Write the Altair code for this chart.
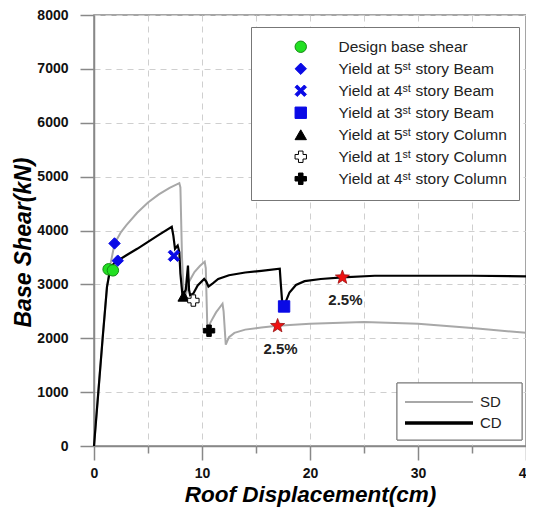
import math
import altair as alt
import pandas as pd

# ---------------- data ----------------
sd_x = [0, 0.4, 0.8, 1.2, 1.5, 1.8, 2.1, 2.5, 3, 4, 5, 6, 7, 7.9, 8.0, 8.15, 8.3, 8.5,
        8.8, 9.3, 9.8, 10.25, 10.35, 10.5, 10.8, 11.3, 11.9, 12.0, 12.2, 12.5, 13, 14,
        15.5, 17, 20, 25, 30, 35, 40]
sd_y = [0, 1000, 2000, 2950, 3350, 3650, 3830, 3970, 4100, 4330, 4520, 4670, 4790, 4880,
        4800, 3500, 2850, 2800, 3050, 3230, 3340, 3420, 3300, 2150, 2300, 2480, 2640, 2500,
        1880, 2020, 2100, 2160, 2200, 2230, 2270, 2300, 2270, 2190, 2100]

cd_x = [0, 0.4, 0.8, 1.2, 1.5, 1.8, 2.2, 3, 4, 5, 6, 7.2, 7.35, 7.5, 7.75, 7.9, 8.0, 8.2,
        8.5, 8.7, 8.8, 8.9, 9.2, 9.6, 10.2, 10.4, 10.6, 11.0, 11.5, 12.5, 14, 15.5, 17.2,
        17.3, 17.45, 17.7, 18.1, 18.7, 19.5, 21, 23, 26, 30, 35, 40]
cd_y = [0, 1000, 2000, 2950, 3280, 3380, 3440, 3540, 3660, 3790, 3920, 4070, 3900, 3660,
        3720, 3600, 3200, 2780, 2900, 3350, 2900, 2800, 2830, 2980, 3100, 3050, 2960, 3020,
        3100, 3170, 3220, 3250, 3290, 3000, 2600, 2650, 2850, 2990, 3060, 3100, 3130, 3160,
        3160, 3160, 3150]

marker_names = ["Design base shear",
                "Yield at 5\u02e2\u1d57 story Beam",
                "Yield at 4\u02e2\u1d57 story Beam",
                "Yield at 3\u02e2\u1d57 story Beam",
                "Yield at 5\u02e2\u1d57 story Column",
                "Yield at 1\u02e2\u1d57 story Column",
                "Yield at 4\u02e2\u1d57 story Column"]
marker_idx = [0, 0, 1, 1, 2, 3, 4, 5, 6]
marker_x = [1.35, 1.75, 1.9, 2.2, 7.4, 17.6, 8.3, 9.2, 10.65]
marker_y = [3280, 3260, 3760, 3440, 3530, 2590, 2780, 2700, 2140]

star_x = [17.0, 23.0]
star_y = [2230, 3130]
star_text = ["2.5%", "2.5%"]

legend2_names = ["SD", "CD"]

# ---------------- frames ----------------
lines = pd.DataFrame({
    "series": ["SD"] * len(sd_x) + ["CD"] * len(cd_x),
    "x": sd_x + cd_x,
    "y": sd_y + cd_y,
    "i": list(range(len(sd_x))) + list(range(len(cd_x))),
})
marks = pd.DataFrame({
    "name": [marker_names[k] for k in marker_idx],
    "x": marker_x,
    "y": marker_y,
})
stars = pd.DataFrame({"x": star_x, "y": star_y, "t": star_text})

# ---------------- shapes ----------------
pts = []
for k in range(10):
    r = 1.0 if k % 2 == 0 else 0.42
    a = -math.pi / 2 + k * math.pi / 5
    pts.append(f"{r*math.cos(a):.3f},{r*math.sin(a):.3f}")
star_path = "M" + "L".join(pts) + "Z"
x_path = ("M-1,-0.62L-0.62,-1L0,-0.38L0.62,-1L1,-0.62L0.38,0L1,0.62L0.62,1L0,0.38"
          "L-0.62,1L-1,0.62L-0.38,0Z")

FONT = "Liberation Sans"
W, H = 432, 431

xscale = alt.Scale(domain=[0, 40], nice=False, zero=False)
yscale = alt.Scale(domain=[0, 8000], nice=False)

xaxis = alt.Axis(
    values=list(range(0, 41, 5)),
    labelExpr="datum.value % 10 === 0 ? datum.label : ''",
    tickSize={"condition": {"test": "datum.value % 10 === 0", "value": 14}, "value": 7},
    tickColor="#888", domainColor="#888", domainWidth=1.5, tickWidth=1.5,
    grid=True, gridDash=[6, 5], gridColor="#cfcfcf",
    labelFont=FONT, labelFontWeight="bold", labelFontSize=14, labelColor="#111",
    labelPadding=6, labelFlush=False,
    title="Roof Displacement(cm)", titleFont=FONT, titleFontSize=22.5,
    titleFontWeight="bold", titleFontStyle="italic", titleColor="#000",
    titleY=55, titleBaseline="alphabetic",
)
yaxis = alt.Axis(
    values=list(range(0, 8001, 500)),
    labelExpr="datum.value % 1000 === 0 ? datum.label : ''",
    format="d",
    tickSize={"condition": {"test": "datum.value % 1000 === 0", "value": 14}, "value": 8},
    tickColor="#888", domainColor="#888", domainWidth=1.5, tickWidth=1.5,
    grid=True, gridDash=[6, 5], gridColor="#cfcfcf",
    gridOpacity={"condition": {"test": "datum.value % 1000 === 0", "value": 1}, "value": 0},
    labelFont=FONT, labelFontWeight="bold", labelFontSize=14, labelColor="#111",
    labelPadding=12,
    title="Base Shear(kN)", titleFont=FONT, titleFontSize=23,
    titleFontWeight="bold", titleFontStyle="italic", titleColor="#000",
    titleX=-71, titleY=227, titleBaseline="middle",
)

base_lines = alt.Chart(lines).mark_line()

sd_line = base_lines.transform_filter("datum.series === 'SD'").mark_line(
    color="#a8a8a8", strokeWidth=2).encode(
    x=alt.X("x:Q", scale=xscale, axis=xaxis),
    y=alt.Y("y:Q", scale=yscale, axis=yaxis),
    order="i:Q",
)
cd_line = base_lines.transform_filter("datum.series === 'CD'").mark_line(
    color="#000000", strokeWidth=2.2).encode(
    x=alt.X("x:Q", scale=xscale),
    y=alt.Y("y:Q", scale=yscale),
    order="i:Q",
)

legend1 = alt.Legend(
    title=None, orient="none", legendX=157, legendY=12,
    padding=12, strokeColor="#777", fillColor="#ffffff",
    labelFont=FONT, labelFontSize=15.5, labelColor="#222", labelLimit=400,
    symbolSize=130, symbolStrokeWidth=1, rowPadding=5, symbolOffset=30, labelOffset=30,
)
mk_fill = ["#22e022", "#0a0ae6", "#0a0ae6", "#0a0ae6", "#000000", "#ffffff", "#000000"]
mk_stroke = ["#138a13", "#0a0ae6", "#0a0ae6", "#0a0ae6", "#000000", "#000000", "#000000"]
mk_shape = ["circle", "diamond", x_path, "square", "triangle-up", "cross", "cross"]

markers = alt.Chart(marks).mark_point(size=130, filled=True, strokeWidth=1, opacity=1).encode(
    x=alt.X("x:Q", scale=xscale),
    y=alt.Y("y:Q", scale=yscale),
    fill=alt.Fill("name:N", scale=alt.Scale(domain=marker_names, range=mk_fill), legend=legend1),
    stroke=alt.Stroke("name:N", scale=alt.Scale(domain=marker_names, range=mk_stroke), legend=legend1),
    shape=alt.Shape("name:N", scale=alt.Scale(domain=marker_names, range=mk_shape), legend=legend1),
)

star_pts = alt.Chart(stars).mark_point(
    shape=star_path, size=220, filled=True, fill="#ee1111", stroke="#991111",
    strokeWidth=0.8, opacity=1).encode(
    x=alt.X("x:Q", scale=xscale), y=alt.Y("y:Q", scale=yscale))
star_lbl = alt.Chart(stars).mark_text(
    font=FONT, fontSize=15, fontWeight="bold", color="#222", dy=23, dx=3).encode(
    x=alt.X("x:Q", scale=xscale), y=alt.Y("y:Q", scale=yscale), text="t:N")

# ---- SD / CD legend box ----
leg_box = alt.Chart(stars).mark_rect(fill="white", stroke="#777", strokeWidth=1).encode(
    x=alt.value(303), x2=alt.value(428), y=alt.value(368), y2=alt.value(425))
leg_sd = alt.Chart(stars).mark_rule(color="#a8a8a8", strokeWidth=2).encode(
    x=alt.value(311), x2=alt.value(379), y=alt.value(387))
leg_cd = alt.Chart(stars).mark_rule(color="#000", strokeWidth=3).encode(
    x=alt.value(311), x2=alt.value(379), y=alt.value(408))
leg_t1 = alt.Chart(pd.DataFrame({"t": [legend2_names[0]]})).mark_text(
    font=FONT, fontSize=15, color="#222", align="left", baseline="middle").encode(
    x=alt.value(386), y=alt.value(387), text="t:N")
leg_t2 = alt.Chart(pd.DataFrame({"t": [legend2_names[1]]})).mark_text(
    font=FONT, fontSize=15, color="#222", align="left", baseline="middle").encode(
    x=alt.value(386), y=alt.value(408), text="t:N")

chart = alt.layer(
    sd_line, cd_line, markers, star_pts, star_lbl,
    leg_box, leg_sd, leg_cd, leg_t1, leg_t2,
).properties(
    width=W, height=H,
    autosize=alt.AutoSizeParams(type="none"),
    padding={"left": 86, "top": 7, "right": 0, "bottom": 61},
).configure_view(stroke="#888", strokeWidth=1.5)

chart.save("out.html", embed_options={"renderer": "svg", "actions": False})
